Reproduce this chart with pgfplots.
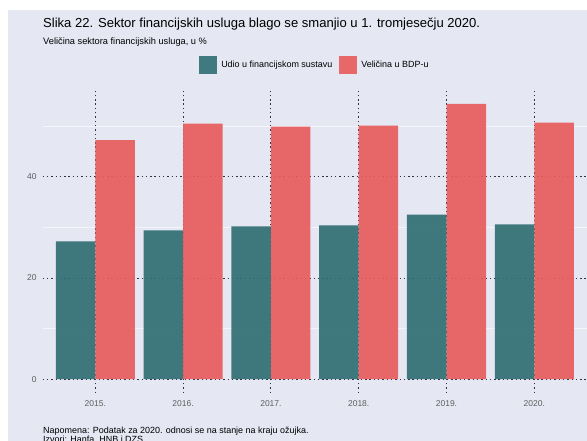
\documentclass[border=0pt]{standalone}
\usepackage{pgfplots}
\pgfplotsset{compat=1.18}
\usepackage{fontspec}
\setmainfont{Liberation Sans}
\definecolor{bgc}{HTML}{E5E7F3}
\definecolor{tealc}{HTML}{306F74}
\definecolor{redc}{HTML}{E85C5C}
\definecolor{tealk}{HTML}{3E7A7E}
\definecolor{redk}{HTML}{E86868}
\definecolor{gridc}{HTML}{2E3445}
\definecolor{tickc}{HTML}{5E5E5E}
\begin{document}
\begin{tikzpicture}
\useasboundingbox (0bp,0bp) rectangle (587bp,441bp);
\clip (0bp,0bp) rectangle (587bp,441bp);
\fill[white] (0bp,0bp) rectangle (587bp,441bp);
\fill[bgc] (8bp,0bp) rectangle (587bp,431bp);
\node[anchor=base west, inner sep=0pt, font=\fontsize{13.1}{15}\selectfont] at (43bp,413bp) {Slika 22. Sektor financijskih usluga blago se smanjio u 1. tromjesečju 2020.};
\node[anchor=base west, inner sep=0pt, font=\fontsize{9.3}{11}\selectfont] at (43bp,396.5bp) {Veličina sektora financijskih usluga, u \%};
\node[anchor=base west, inner sep=0pt, font=\fontsize{9}{11}\selectfont] at (43bp,7.5bp) {Napomena: Podatak za 2020. odnosi se na stanje na kraju ožujka.};
\node[anchor=base west, inner sep=0pt, font=\fontsize{9}{11}\selectfont] at (43bp,-1.5bp) {Izvori: Hanfa, HNB i DZS};
\begin{axis}[
  at={(42.6bp,48bp)}, anchor=south west,
  scale only axis, width=544.4bp, height=303bp,
  xmin=0.4, xmax=6.6, ymin=-2.72, ymax=57.12,
  axis line style={draw=none},
  major tick length=0pt, minor tick length=0pt,
  xtick={1,2,3,4,5,6},
  xticklabels={2015.,2016.,2017.,2018.,2019.,2020.},
  ytick={0,20,40},
  minor ytick={10,30,50},
  xmajorgrids, ymajorgrids, yminorgrids,
  major grid style={gridc, line width=0.9bp, dash pattern=on 1.4bp off 2.9bp},
  minor grid style={white, line width=0.5bp, opacity=0.6},
  /pgf/number format/assume math mode=true,
  tick label style={font=\fontsize{8.5}{10}\selectfont, text=tickc},
  yticklabel style={xshift=-2.5bp},
  xticklabel style={yshift=-4bp},
  legend style={at={(0.5003,1.0825)}, anchor=center, draw=none, fill=none,
    legend columns=2, font=\fontsize{9}{11}\selectfont,
    /tikz/every odd column/.append style={column sep=2.5bp},
    /tikz/every even column/.append style={column sep=5bp}},
  legend image code/.code={\fill[#1] (0bp,-8.5bp) rectangle (17bp,8.5bp);},
]
\addlegendimage{tealk}
\addlegendentry{Udio u financijskom sustavu}
\addlegendimage{redk}
\addlegendentry{Veličina u BDP-u}
\addplot[ybar, bar width=0.45, bar shift=-0.225, draw=none, fill=tealc, fill opacity=0.92, forget plot]
  coordinates {(1,27.2) (2,29.4) (3,30.2) (4,30.4) (5,32.5) (6,30.6)};
\addplot[ybar, bar width=0.45, bar shift=0.225, draw=none, fill=redc, fill opacity=0.92, forget plot]
  coordinates {(1,47.2) (2,50.5) (3,49.9) (4,50.1) (5,54.4) (6,50.7)};
\end{axis}
\end{tikzpicture}
\end{document}
